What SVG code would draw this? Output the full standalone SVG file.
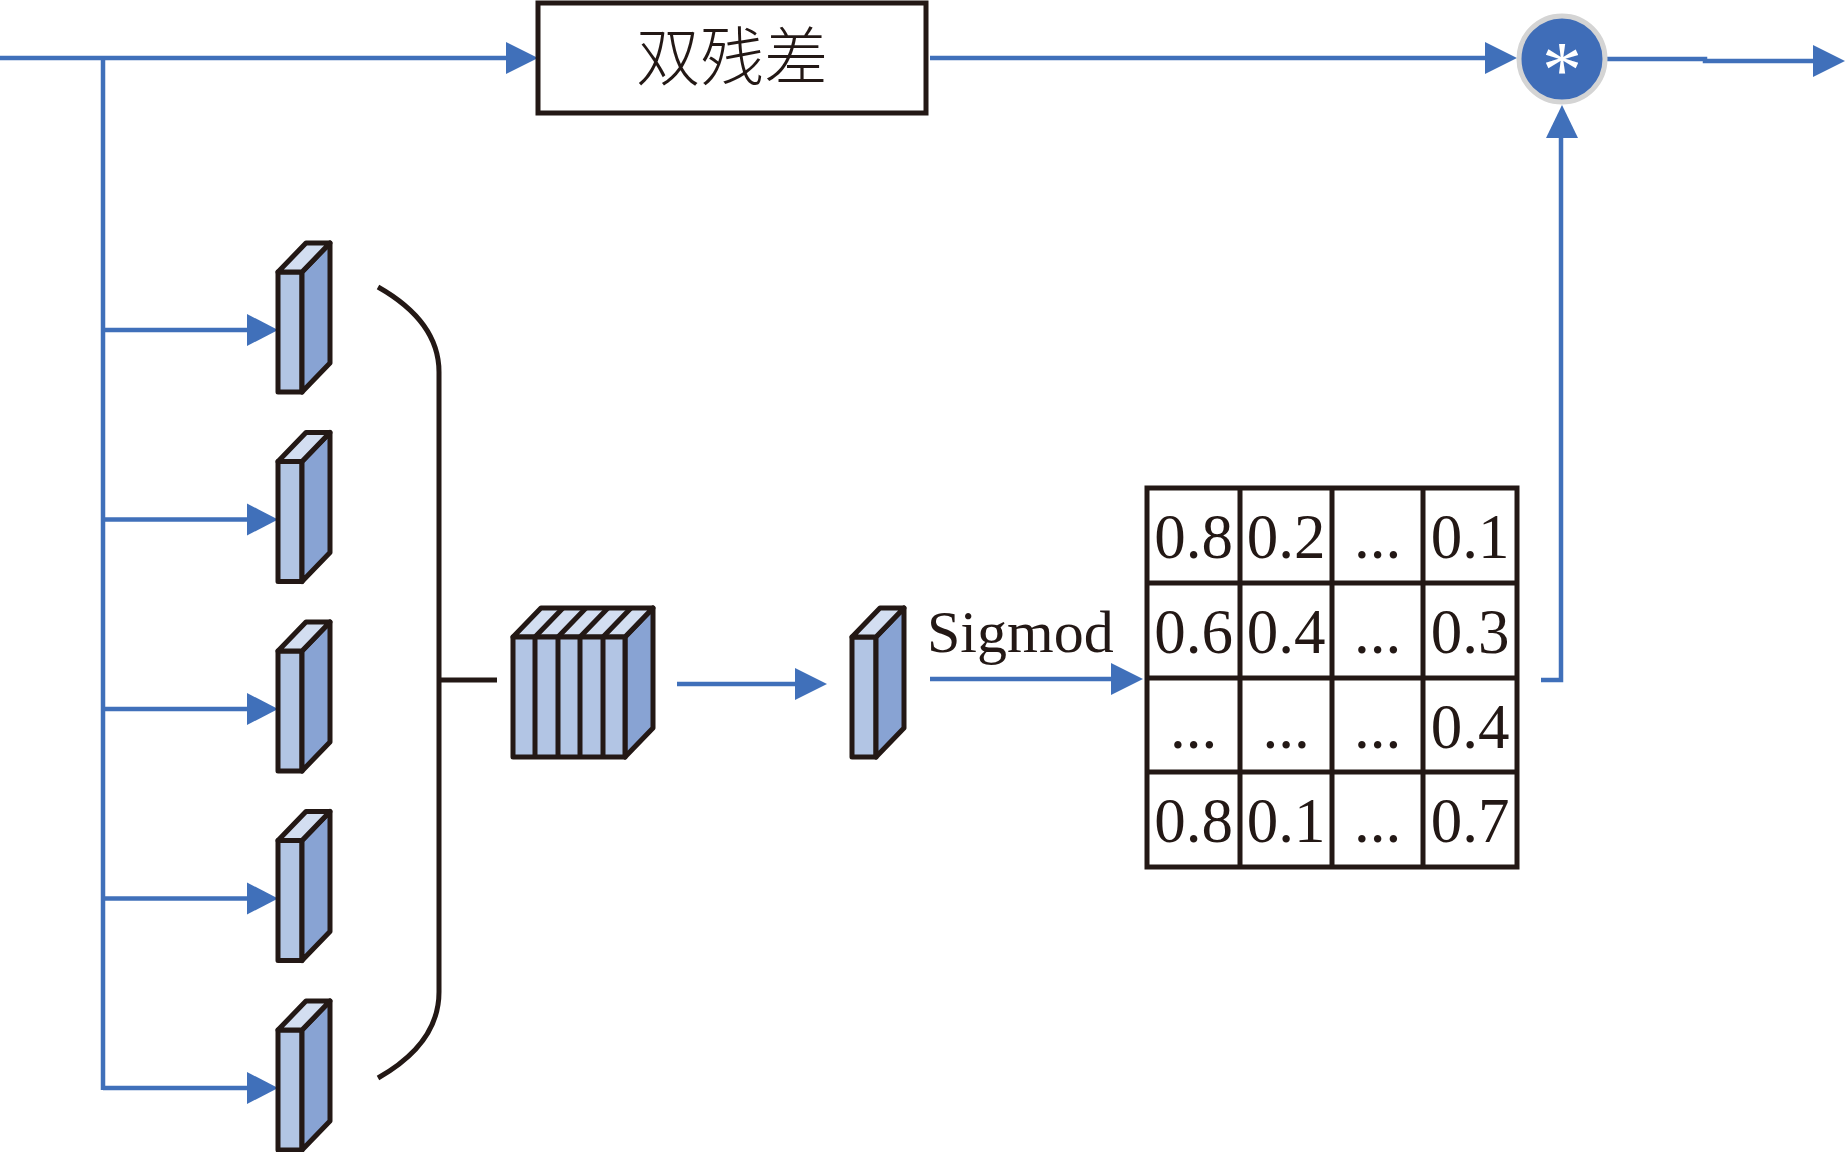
<svg xmlns="http://www.w3.org/2000/svg" width="1845" height="1152" viewBox="0 0 1845 1152">
<style>
.ln{stroke:#4070BA;stroke-width:4.5;fill:none}
.ah{fill:#4070BA}
.bk{stroke:#231815;stroke-width:5;fill:none;stroke-linejoin:round}
.fr{fill:#B2C5E4;stroke:#231815;stroke-width:5;stroke-linejoin:round}
.sd{fill:#88A3D3;stroke:#231815;stroke-width:5;stroke-linejoin:round}
.tp{fill:#D3DEF1;stroke:#231815;stroke-width:5;stroke-linejoin:round}
.num{font-family:"Liberation Serif","Times New Roman",serif;font-size:63px;fill:#231815;text-anchor:middle}
.cell{fill:#fff;stroke:#231815;stroke-width:5}
</style>
<defs>
<g id="thin">
<rect class="fr" x="0" y="0" width="24" height="120"/>
<polygon class="sd" points="24,0 52,-29 52,91 24,120"/>
<polygon class="tp" points="0,0 28,-29 52,-29 24,0"/>
</g>
</defs>
<rect width="1845" height="1152" fill="#fff"/>
<g id="connectors">
<line class="ln" x1="0" y1="58" x2="510" y2="58"/>
<polygon class="ah" points="506,42 538,58 506,74"/>
<line class="ln" x1="103" y1="58" x2="103" y2="1090"/>
<line class="ln" x1="103" y1="330" x2="250" y2="330"/>
<polygon class="ah" points="247,314 278,330 247,346"/>
<line class="ln" x1="103" y1="519.5" x2="250" y2="519.5"/>
<polygon class="ah" points="247,503.5 278,519.5 247,535.5"/>
<line class="ln" x1="103" y1="709" x2="250" y2="709"/>
<polygon class="ah" points="247,693 278,709 247,725"/>
<line class="ln" x1="103" y1="898.5" x2="250" y2="898.5"/>
<polygon class="ah" points="247,882.5 278,898.5 247,914.5"/>
<line class="ln" x1="103" y1="1088" x2="250" y2="1088"/>
<polygon class="ah" points="247,1072 278,1088 247,1104"/>
<line class="ln" x1="930" y1="58" x2="1490" y2="58"/>
<polygon class="ah" points="1485,42 1517,58 1485,74"/>
<polyline class="ln" points="1604,59 1705,59 1705,61 1815,61"/>
<polygon class="ah" points="1813,45 1845,61 1813,77"/>
<polyline class="ln" points="1541,680 1561,680 1561,135"/>
<polygon class="ah" points="1546,138 1562,105 1578,138"/>
<line class="ln" x1="677" y1="684" x2="800" y2="684"/>
<polygon class="ah" points="795,668 827,684 795,700"/>
<line class="ln" x1="930" y1="679" x2="1115" y2="679"/>
<polygon class="ah" points="1111,663 1143,679 1111,695"/>
<path class="bk" d="M378,287 C415,308 439,335 439,372 L439,992 C439,1030 415,1057 378,1078"/>
<line class="bk" x1="439" y1="680" x2="497" y2="680"/>
</g>
<g id="residual">
<rect x="538" y="3" width="388" height="110" fill="#fff" stroke="#231815" stroke-width="5"/>
<text x="732" y="80" font-family="'Noto Sans CJK SC',sans-serif" font-size="64" font-weight="300" fill="#231815" text-anchor="middle">双残差</text>
</g>
<g id="multiply">
<circle cx="1562" cy="59" r="43" fill="#3F6DB8" stroke="#D4D4D4" stroke-width="5"/>
<text x="1562" y="97" font-family="'Liberation Serif','Times New Roman',serif" font-size="80" fill="#fff" text-anchor="middle">*</text>
</g>
<g id="features">
<use href="#thin" x="278" y="272"/>
<use href="#thin" x="278" y="461.5"/>
<use href="#thin" x="278" y="651"/>
<use href="#thin" x="278" y="840.5"/>
<use href="#thin" x="278" y="1030"/>
</g>
<g id="concat">
<polygon class="sd" points="625,637 653,608 653,728 625,757"/>
<polygon class="tp" points="513,637 541,608 653,608 625,637"/>
<rect class="fr" x="513" y="637" width="112" height="120"/>
<path class="bk" d="M535,637 V757 M558,637 V757 M580,637 V757 M603,637 V757 M535,637 L563,608 M558,637 L586,608 M580,637 L608,608 M603,637 L631,608"/>
</g>
<g id="pooled">
<use href="#thin" x="852" y="637"/>
</g>
<g id="sigmod">
<text x="927" y="652" font-family="'Liberation Serif','Times New Roman',serif" font-size="60" fill="#231815">Sigmod</text>
</g>
<g id="matrix">
<rect class="cell" x="1147" y="488" width="370" height="379"/>
<path class="bk" d="M1240,488 V867 M1332,488 V867 M1423,488 V867 M1147,583 H1517 M1147,678 H1517 M1147,772 H1517"/>
<text class="num" x="1193.5" y="558">0.8</text>
<text class="num" x="1286" y="558">0.2</text>
<text class="num" x="1377.5" y="558">...</text>
<text class="num" x="1470" y="558">0.1</text>
<text class="num" x="1193.5" y="653">0.6</text>
<text class="num" x="1286" y="653">0.4</text>
<text class="num" x="1377.5" y="653">...</text>
<text class="num" x="1470" y="653">0.3</text>
<text class="num" x="1193.5" y="748">...</text>
<text class="num" x="1286" y="748">...</text>
<text class="num" x="1377.5" y="748">...</text>
<text class="num" x="1470" y="748">0.4</text>
<text class="num" x="1193.5" y="842">0.8</text>
<text class="num" x="1286" y="842">0.1</text>
<text class="num" x="1377.5" y="842">...</text>
<text class="num" x="1470" y="842">0.7</text>
</g>
</svg>
